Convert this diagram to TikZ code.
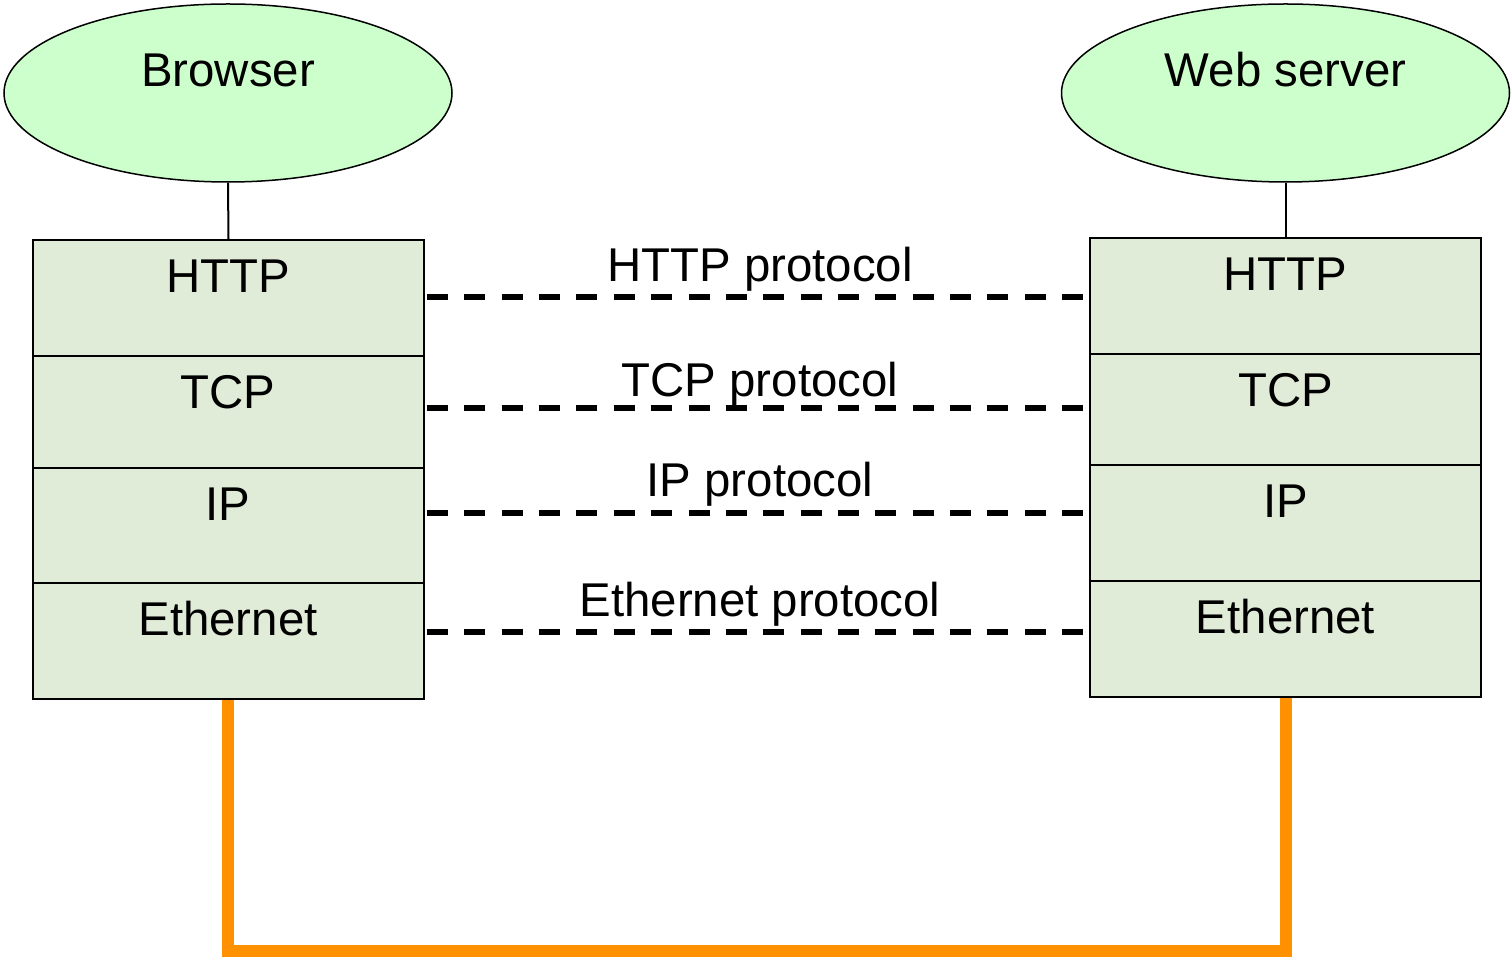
\documentclass[tikz,border=0pt]{standalone}
\usepackage{fontspec}
\setmainfont{Liberation Sans}
\definecolor{ellfill}{RGB}{204,255,204}
\definecolor{cellfill}{RGB}{224,236,215}
\definecolor{wire}{RGB}{255,145,0}
\begin{document}
\begin{tikzpicture}[x=0.5pt,y=-0.5pt,
  appell/.style={draw=black, line width=0.75pt, fill=ellfill, ellipse, minimum width=224pt, minimum height=89pt, inner sep=0pt},
  cell/.style={draw=black, line width=1pt, fill=cellfill, rectangle, minimum width=195.5pt, inner sep=0pt, anchor=north},
  txt/.style={anchor=base, inner sep=0pt, font=\fontsize{23.7pt}{28pt}\selectfont},
  link/.style={draw=black, line width=1pt},
  proto/.style={draw=black, line width=2.7pt, dash pattern=on 10.5pt off 8.18pt},
  eth/.style={draw=wire, line width=6pt, line join=miter}]
\usetikzlibrary{shapes.geometric}
\useasboundingbox (0,0) rectangle (1511,961);
% ellipses
\node[appell] (lapp) at (228,93) {};
\node[appell] (rapp) at (1285.5,93) {};
\node[txt] (lappt) at (228,87) {Browser};
\node[txt] (rappt) at (1285.5,87) {Web server};
% orange wire
\draw[eth] (228,698) coordinate (lw1) -- (228,951) coordinate (lw2) -- (1286,951) coordinate (rw2) -- (1286,696) coordinate (rw1);
% left stack
\node[cell, minimum height=58pt] (lhttp) at (228.5,239) {};
\node[cell, minimum height=56pt] (ltcp) at (228.5,355) {};
\node[cell, minimum height=57.5pt] (lip) at (228.5,467) {};
\node[cell, minimum height=58pt] (leth) at (228.5,582) {};
% right stack
\node[cell, minimum height=58pt] (rhttp) at (1285.5,237) {};
\node[cell, minimum height=55.5pt] (rtcp) at (1285.5,353) {};
\node[cell, minimum height=58pt] (rip) at (1285.5,464) {};
\node[cell, minimum height=58pt] (reth) at (1285.5,580) {};
% cell texts
\node[txt] (lhttpt) at (228,293) {HTTP};
\node[txt] (ltcpt) at (228,409) {TCP};
\node[txt] (lipt) at (228,521) {IP};
\node[txt] (letht) at (228,636) {Ethernet};
\node[txt] (rhttpt) at (1285.5,291) {HTTP};
\node[txt] (rtcpt) at (1285.5,407) {TCP};
\node[txt] (ript) at (1285.5,518) {IP};
\node[txt] (retht) at (1285.5,634) {Ethernet};
% app links
\draw[link] (lapp.south) -- (lhttp.north);
\draw[link] (rapp.south) -- (rhttp.north);
% protocol lines
\coordinate (h1) at (427,297); \coordinate (h2) at (1083,297);
\coordinate (t1) at (427,408); \coordinate (t2) at (1083,408);
\coordinate (i1) at (427,513); \coordinate (i2) at (1083,513);
\coordinate (e1) at (427,632); \coordinate (e2) at (1083,632);
\draw[proto] (h1) -- (h2);
\draw[proto] (t1) -- (t2);
\draw[proto] (i1) -- (i2);
\draw[proto] (e1) -- (e2);
\node[txt] (hl) at (760,282) {HTTP protocol};
\node[txt] (tl) at (760,397) {TCP protocol};
\node[txt] (il) at (760,497) {IP protocol};
\node[txt] (el) at (760,617) {Ethernet protocol};
\end{tikzpicture}
\end{document}
